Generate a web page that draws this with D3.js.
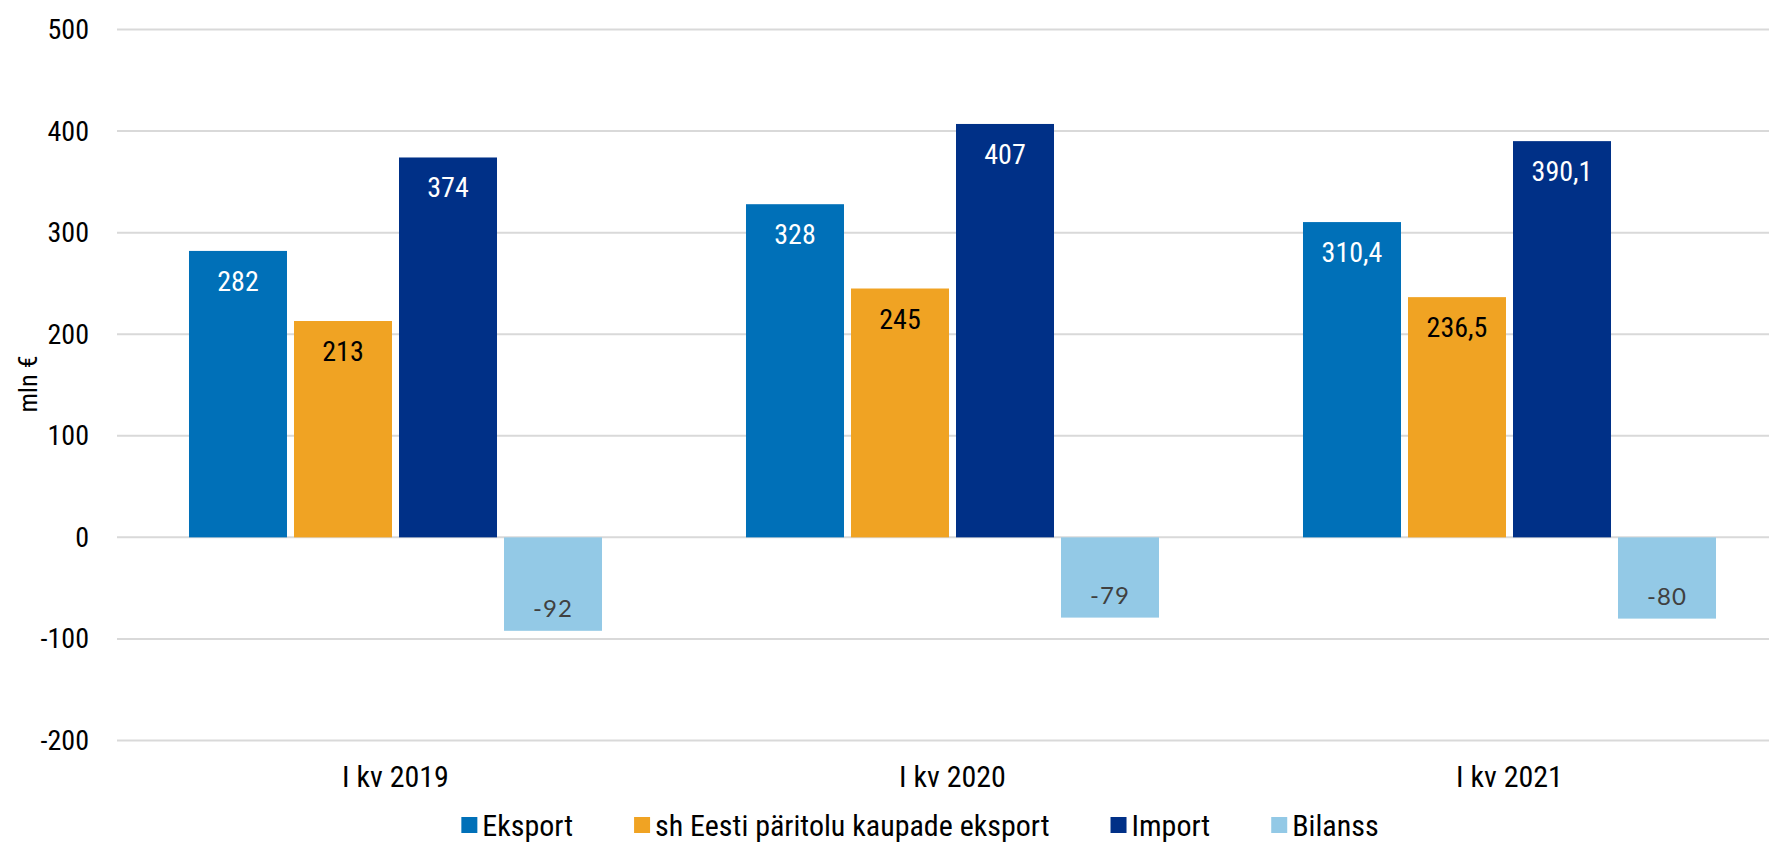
<!DOCTYPE html>
<html>
<head>
<meta charset="utf-8">
<script src="https://cdn.jsdelivr.net/npm/d3@7"></script>
<style>
  body { margin: 0; background: #fff; }
  text { font-family: "Roboto Condensed", "Liberation Sans Narrow", "Roboto", sans-serif; }
</style>
</head>
<body>
<div id="chart"></div>
<script>
// data
const categories = ["I kv 2019", "I kv 2020", "I kv 2021"];
const seriesNames = ["Eksport", "sh Eesti päritolu kaupade eksport", "Import", "Bilanss"];
const eksport = [282, 328, 310.4];
const eestiEksport = [213, 245, 236.5];
const importValues = [374, 407, 390.1];
const bilanss = [-92, -79, -80];
const yTicks = [-200, -100, 0, 100, 200, 300, 400, 500];

const colors = ["#0070B8", "#F0A323", "#003087", "#93C9E6"];
const labelColors = ["#fff", "#000", "#fff", "#404040"];
const seriesValues = [eksport, eestiEksport, importValues, bilanss];

const W = 1769, H = 842;

const svg = d3.select("#chart").append("svg")
    .attr("width", W)
    .attr("height", H);

// scales
const x0 = d3.scaleBand()
    .domain(categories)
    .range([117, 1788])
    .paddingInner(0.2585)
    .paddingOuter(0.12925);

const x1 = d3.scaleBand()
    .domain(seriesNames)
    .range([0, x0.bandwidth()])
    .paddingInner(0.0667)
    .paddingOuter(0);

const y = d3.scaleLinear()
    .domain([-200, 500])
    .range([740.5, 29.5]);

// gridlines
svg.append("g")
  .selectAll("line")
  .data(yTicks)
  .join("line")
    .attr("x1", 117)
    .attr("x2", W)
    .attr("y1", d => y(d))
    .attr("y2", d => y(d))
    .attr("stroke", "#d9d9d9")
    .attr("stroke-width", 2);

// y axis labels
const yAxis = svg.append("g")
    .attr("transform", "translate(89,0)")
    .call(d3.axisLeft(y).tickValues(yTicks).tickFormat(d => String(d)).tickSize(0).tickPadding(0));
yAxis.select(".domain").remove();
yAxis.selectAll("text")
    .attr("font-size", 28)
    .attr("fill", "#000")
    .style("font-family", "'Roboto Condensed', 'Liberation Sans Narrow', Roboto, sans-serif");

// y title
svg.append("text")
    .attr("transform", "translate(37,384) rotate(-90)")
    .attr("text-anchor", "middle")
    .attr("font-size", 26)
    .text("mln €");

// bars
const rows = [];
categories.forEach((c, i) => {
  seriesNames.forEach((s, j) => {
    rows.push({cat: c, series: s, idx: j, value: seriesValues[j][i]});
  });
});

const groups = svg.append("g");
groups.selectAll("rect")
  .data(rows)
  .join("rect")
    .attr("x", d => x0(d.cat) + x1(d.series))
    .attr("y", d => y(Math.max(0, d.value)))
    .attr("width", x1.bandwidth())
    .attr("height", d => Math.abs(y(d.value) - y(0)))
    .attr("fill", d => colors[d.idx]);

// value labels
const fmt = v => String(v).replace(".", ",");
groups.selectAll("text")
  .data(rows)
  .join("text")
    .attr("x", d => x0(d.cat) + x1(d.series) + x1.bandwidth() / 2)
    .attr("y", d => d.value >= 0 ? y(d.value) + 40 : y(d.value) - 14)
    .attr("text-anchor", "middle")
    .attr("font-size", d => d.value >= 0 ? 28 : 24)
    .attr("fill", d => labelColors[d.idx])
    .style("font-family", d => d.value >= 0 ? null : "Lato, 'Open Sans', sans-serif")
    .style("letter-spacing", d => d.value >= 0 ? null : "1px")
    .text(d => fmt(d.value));

// category labels
svg.append("g")
  .selectAll("text")
  .data(categories)
  .join("text")
    .attr("x", d => x0(d) + x0.bandwidth() / 2)
    .attr("y", 787)
    .attr("text-anchor", "middle")
    .attr("font-size", 30)
    .text(d => d);

// legend
const legend = svg.append("g");
const gap = 61;
let lx = 0;
seriesNames.forEach((s, i) => {
  const g = legend.append("g");
  g.append("rect")
      .attr("x", 0).attr("y", -8)
      .attr("width", 16).attr("height", 16)
      .attr("fill", colors[i]);
  const t = g.append("text")
      .attr("x", 21).attr("y", 11)
      .attr("font-size", 30)
      .text(s);
  const w = 21 + t.node().getComputedTextLength();
  g.attr("transform", `translate(${lx},0)`);
  lx += w + gap;
});
const legendW = lx - gap;
legend.attr("transform", `translate(${920 - legendW / 2},825)`);
</script>
</body>
</html>
